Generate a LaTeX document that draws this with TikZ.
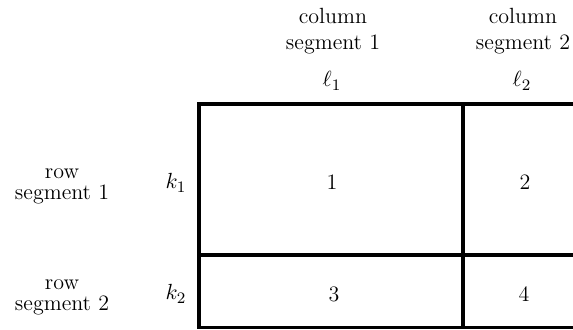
\documentclass[tikz,border=0pt]{standalone}
\begin{document}
\begin{tikzpicture}[x=0.5pt,y=-0.5pt,
  lbl/.style={align=center,inner sep=0pt,font=\fontsize{11}{13}\selectfont},
  gridline/.style={line width=1.7pt,line cap=rect}]
\useasboundingbox (0,0) rectangle (573,330);
% grid
\coordinate (tl) at (199,104);
\coordinate (tm) at (463,104);
\coordinate (tr) at (580,104);
\coordinate (ml) at (199,255);
\coordinate (mm) at (463,255);
\coordinate (mr) at (580,255);
\coordinate (bl) at (199,327.5);
\coordinate (bm) at (463,327.5);
\coordinate (br) at (580,327.5);
\draw[gridline] (tr) -- (tl) -- (bl) -- (br);
\draw[gridline] (ml) -- (mr);
\draw[gridline] (tm) -- (bm);
% column headers
\node[lbl] (c1) at (333,31) {column\\segment 1};
\node[lbl] (c2) at (523,31) {column\\segment 2};
\node[lbl] (l1) at (332,81) {$\ell_1$};
\node[lbl] (l2) at (522,81) {$\ell_2$};
% row headers
\node[lbl] (r1) at (62,186) {row\\[-2.5pt]segment 1};
\node[lbl] (r2) at (62,297) {row\\[-2.5pt]segment 2};
\node[lbl] (k1) at (176,183) {$k_1$};
\node[lbl] (k2) at (176,294) {$k_2$};
% cells
\node[lbl] (n1) at (332,182) {1};
\node[lbl] (n2) at (525,182) {2};
\node[lbl] (n3) at (334,294) {3};
\node[lbl] (n4) at (524,294) {4};
\end{tikzpicture}
\end{document}
